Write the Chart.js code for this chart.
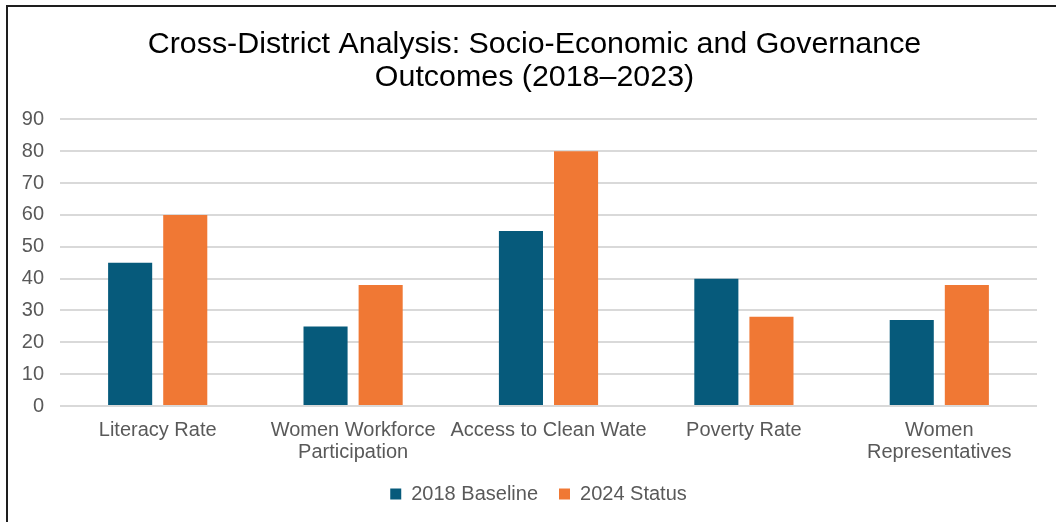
<!DOCTYPE html>
<html>
<head>
<meta charset="utf-8">
<script src="https://cdn.jsdelivr.net/npm/chart.js@4/dist/chart.umd.min.js"></script>
<style>
  html, body { margin: 0; padding: 0; background: #fff; }
  #wrap { position: relative; width: 1056px; height: 522px; overflow: hidden; }
  #frame {
    position: absolute; left: 6px; top: 5px; width: 1050px; height: 517px;
    border-top: 2px solid #1e1e1e; border-left: 2px solid #1e1e1e;
    box-sizing: border-box; pointer-events: none;
  }
  canvas { position: absolute; left: 0; top: 0; }
</style>
</head>
<body>
<div id="wrap">
  <canvas id="chart" width="1056" height="522"></canvas>
  <div id="frame"></div>
</div>
<script>
// ---- data ----
const categories = [
  'Literacy Rate',
  ['Women Workforce', 'Participation'],
  'Access to Clean Wate',
  'Poverty Rate',
  ['Women', 'Representatives'],
];
const baseline2018 = [45, 25, 55, 40, 27];
const status2024 = [60, 38, 80, 28, 38];
const seriesNames = ['2018 Baseline', '2024 Status'];
const yTicks = [0, 10, 20, 30, 40, 50, 60, 70, 80, 90];

const BLUE = '#065A7B';
const ORANGE = '#F07834';
const FONT = "'Liberation Sans', Arial, sans-serif";

// title and legend sit a little right of the plot centre in the original
const nudgeBoxes = {
  id: 'nudgeBoxes',
  afterLayout(chart) {
    if (chart.titleBlock) { chart.titleBlock.left += 12; }
    if (chart.legend) { chart.legend.left += 10; chart.legend.right += 10; }
  },
};

const ctx = document.getElementById('chart').getContext('2d');
new Chart(ctx, {
  type: 'bar',
  data: {
    labels: categories,
    datasets: [
      {
        label: seriesNames[0],
        data: baseline2018,
        backgroundColor: BLUE,
        categoryPercentage: 0.564,
        barPercentage: 0.8,
      },
      {
        label: seriesNames[1],
        data: status2024,
        backgroundColor: ORANGE,
        categoryPercentage: 0.564,
        barPercentage: 0.8,
      },
    ],
  },
  plugins: [nudgeBoxes],
  options: {
    responsive: false,
    animation: false,
    devicePixelRatio: 1,
    layout: { padding: { top: 20, right: 19, bottom: 8, left: 20 } },
    plugins: {
      title: {
        display: true,
        text: ['Cross-District Analysis: Socio-Economic and Governance', 'Outcomes (2018\u20132023)'],
        color: '#000',
        font: { family: FONT, size: 30.4, weight: 'normal', lineHeight: 1.06 },
        padding: { top: 9, bottom: 26 },
      },
      legend: {
        position: 'bottom',
        labels: {
          boxWidth: 11,
          boxHeight: 11,
          padding: 21,
          color: '#595959',
          font: { family: FONT, size: 20 },
        },
      },
      tooltip: { enabled: false },
    },
    scales: {
      x: {
        afterFit: (scale) => { scale.height = 57; },
        grid: { display: false, drawTicks: false },
        border: { display: false },
        ticks: {
          color: '#595959',
          font: { family: FONT, size: 20, lineHeight: 1.1 },
          maxRotation: 0,
          autoSkip: false,
          padding: 13,
        },
      },
      y: {
        min: 0,
        max: 90,
        afterFit: (scale) => { scale.width = 40; },
        afterBuildTicks: (scale) => { scale.ticks = yTicks.map(v => ({ value: v })); },
        grid: { color: '#d9d9d9', lineWidth: 2, drawTicks: false },
        border: { display: false },
        ticks: {
          color: '#595959',
          font: { family: FONT, size: 20 },
          padding: 16,
        },
      },
    },
  },
});
</script>
</body>
</html>
